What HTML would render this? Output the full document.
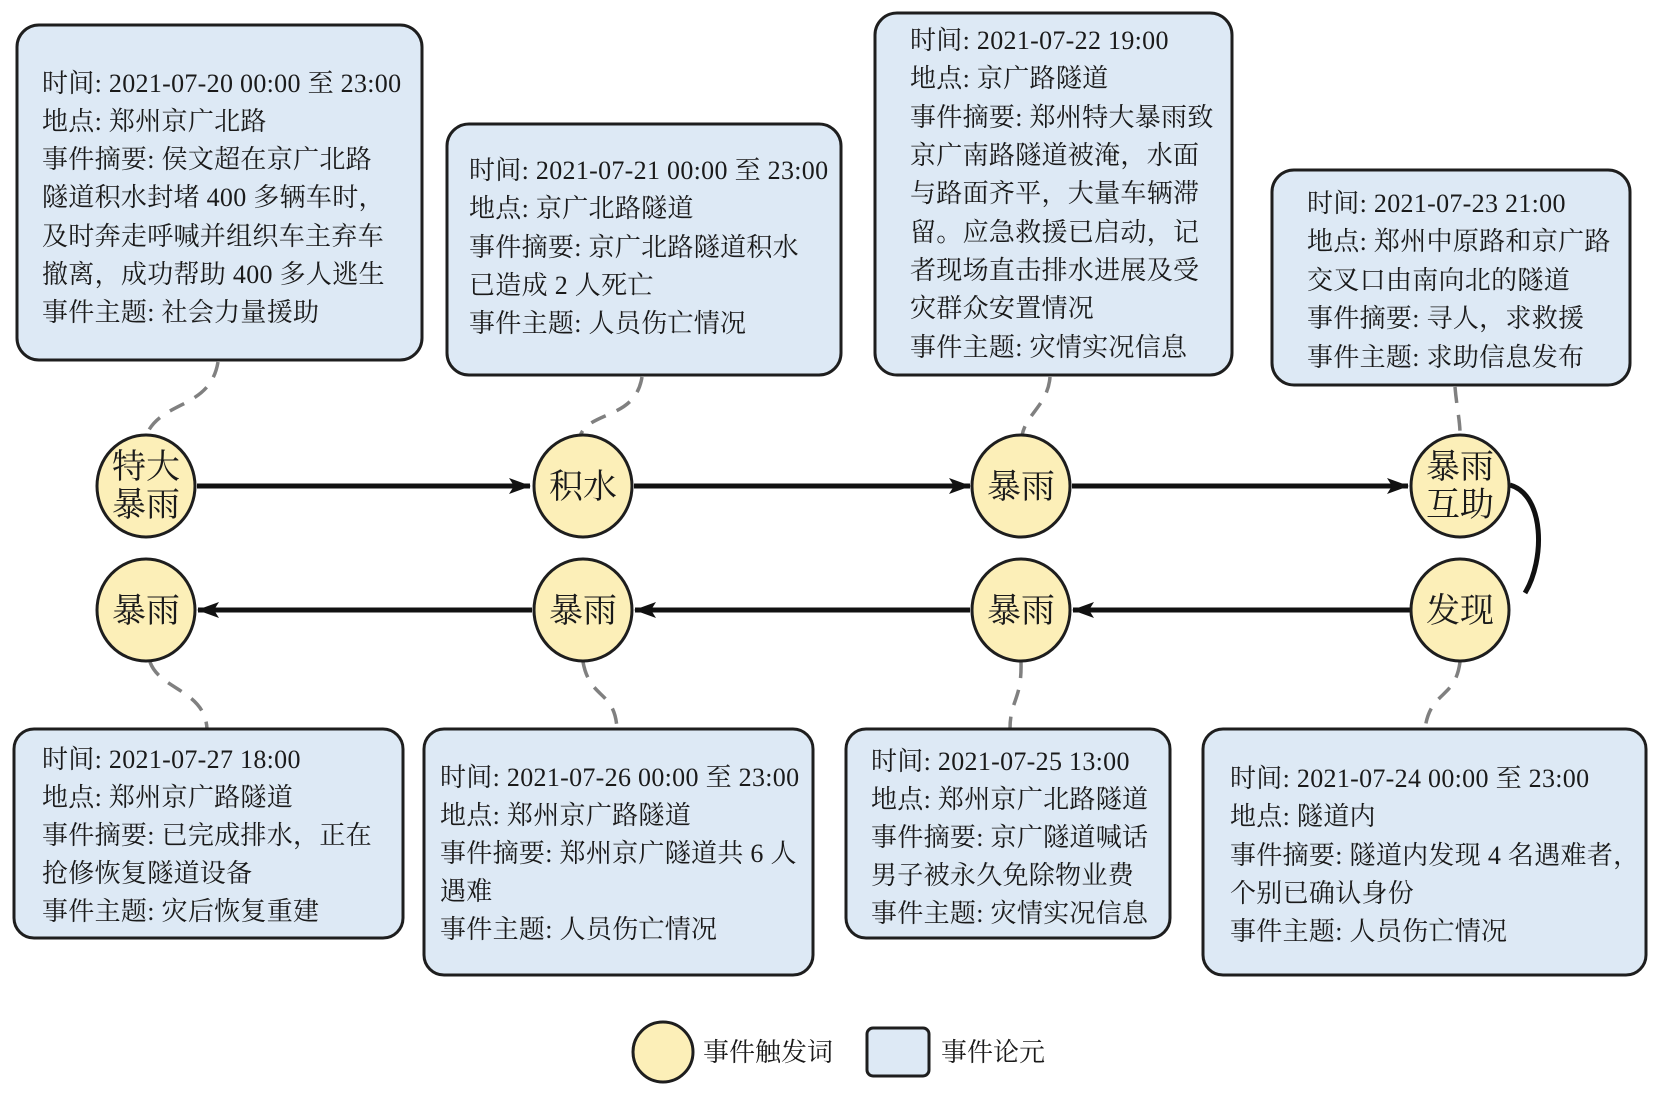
<!DOCTYPE html>
<html><head><meta charset="utf-8"><style>
html,body{margin:0;padding:0;background:#fff;}
svg{display:block;}
.t{font-family:"Liberation Serif","Noto Serif CJK SC",serif;font-size:26px;fill:#1a1a1a;}
.t text{letter-spacing:0.3px;}
.c{font-family:"Liberation Serif","Noto Serif CJK SC",serif;font-size:34px;fill:#1a1a1a;text-anchor:middle;}
.b{fill:#dde9f5;stroke:#1e1e1e;stroke-width:3;}
.e{fill:#fcefb8;stroke:#1e1e1e;stroke-width:3;}
.d{fill:none;stroke:#808080;stroke-width:3.5;stroke-dasharray:16 12;}
.a{stroke:#111;stroke-width:5;fill:none;}
</style></head><body>
<svg width="1658" height="1094" viewBox="0 0 1658 1094" xmlns="http://www.w3.org/2000/svg">
<defs>
<marker id="ah" markerWidth="22" markerHeight="16" refX="21" refY="8" orient="auto" markerUnits="userSpaceOnUse"><path d="M0,0 L22,8 L0,16 L5,8 Z" fill="#111"/></marker></defs>

<path class="d" d="M218,362 C210,410 160,400 146,436"/>
<path class="d" d="M642,377 C635,420 590,410 580,436"/>
<path class="d" d="M1050,377 C1048,405 1025,415 1022,436"/>
<path class="d" d="M1455,387 C1457,410 1460,420 1460,434"/>
<path class="d" d="M150,662 C160,690 205,690 207,729"/>
<path class="d" d="M583,662 C590,700 615,690 617,729"/>
<path class="d" d="M1021,662 C1022,700 1010,700 1010,729"/>
<path class="d" d="M1460,662 C1455,700 1430,690 1425,729"/>

<rect class="b" x="17" y="25" width="405" height="335" rx="22"/>
<rect class="b" x="447" y="124" width="394" height="251" rx="22"/>
<rect class="b" x="875" y="13" width="357" height="362" rx="22"/>
<rect class="b" x="1272" y="170" width="358" height="215" rx="22"/>
<rect class="b" x="14" y="729" width="389" height="209" rx="20"/>
<rect class="b" x="424" y="729" width="389" height="246" rx="20"/>
<rect class="b" x="846" y="729" width="324" height="209" rx="20"/>
<rect class="b" x="1203" y="729" width="443" height="246" rx="20"/>

<line class="a" x1="197" y1="486" x2="530" y2="486" marker-end="url(#ah)"/>
<line class="a" x1="634" y1="486" x2="970" y2="486" marker-end="url(#ah)"/>
<line class="a" x1="1072" y1="486" x2="1408" y2="486" marker-end="url(#ah)"/>
<line class="a" x1="1410" y1="610" x2="1073" y2="610" marker-end="url(#ah)"/>
<line class="a" x1="970" y1="610" x2="635" y2="610" marker-end="url(#ah)"/>
<line class="a" x1="532" y1="610" x2="198" y2="610" marker-end="url(#ah)"/>
<path class="a" d="M1510,485 C1545,495 1545,560 1525,593"/>

<ellipse class="e" cx="146" cy="486" rx="49" ry="51"/>
<ellipse class="e" cx="583" cy="486" rx="49" ry="51"/>
<ellipse class="e" cx="1021" cy="486" rx="49" ry="51"/>
<ellipse class="e" cx="1460" cy="486" rx="49" ry="51"/>
<ellipse class="e" cx="146" cy="610" rx="49" ry="51"/>
<ellipse class="e" cx="583" cy="610" rx="49" ry="51"/>
<ellipse class="e" cx="1021" cy="610" rx="49" ry="51"/>
<ellipse class="e" cx="1460" cy="610" rx="49" ry="51"/>
<text class="c" x="146" y="478">特大</text><text class="c" x="146" y="516">暴雨</text>
<text class="c" x="583" y="498">积水</text>
<text class="c" x="1021" y="498">暴雨</text>
<text class="c" x="1460" y="478">暴雨</text><text class="c" x="1460" y="516">互助</text>
<text class="c" x="1460" y="622">发现</text>
<text class="c" x="1021" y="622">暴雨</text>
<text class="c" x="583" y="622">暴雨</text>
<text class="c" x="146" y="622">暴雨</text>

<g class="t">
<text x="42" y="92">时间: 2021-07-20 00:00 至 23:00</text>
<text x="42" y="130">地点: 郑州京广北路</text>
<text x="42" y="168">事件摘要: 侯文超在京广北路</text>
<text x="42" y="206">隧道积水封堵 400 多辆车时，</text>
<text x="42" y="245">及时奔走呼喊并组织车主弃车</text>
<text x="42" y="283">撤离，成功帮助 400 多人逃生</text>
<text x="42" y="321">事件主题: 社会力量援助</text>

<text x="469" y="179">时间: 2021-07-21 00:00 至 23:00</text>
<text x="469" y="217">地点: 京广北路隧道</text>
<text x="469" y="256">事件摘要: 京广北路隧道积水</text>
<text x="469" y="294">已造成 2 人死亡</text>
<text x="469" y="332">事件主题: 人员伤亡情况</text>

<text x="910" y="49">时间: 2021-07-22 19:00</text>
<text x="910" y="87">地点: 京广路隧道</text>
<text x="910" y="126">事件摘要: 郑州特大暴雨致</text>
<text x="910" y="164">京广南路隧道被淹，水面</text>
<text x="910" y="202">与路面齐平，大量车辆滞</text>
<text x="910" y="241">留。应急救援已启动，记</text>
<text x="910" y="279">者现场直击排水进展及受</text>
<text x="910" y="317">灾群众安置情况</text>
<text x="910" y="356">事件主题: 灾情实况信息</text>

<text x="1307" y="212">时间: 2021-07-23 21:00</text>
<text x="1307" y="250">地点: 郑州中原路和京广路</text>
<text x="1307" y="289">交叉口由南向北的隧道</text>
<text x="1307" y="327">事件摘要: 寻人，求救援</text>
<text x="1307" y="366">事件主题: 求助信息发布</text>

<text x="42" y="768">时间: 2021-07-27 18:00</text>
<text x="42" y="806">地点: 郑州京广路隧道</text>
<text x="42" y="844">事件摘要: 已完成排水，正在</text>
<text x="42" y="882">抢修恢复隧道设备</text>
<text x="42" y="920">事件主题: 灾后恢复重建</text>

<text x="440" y="786">时间: 2021-07-26 00:00 至 23:00</text>
<text x="440" y="824">地点: 郑州京广路隧道</text>
<text x="440" y="862">事件摘要: 郑州京广隧道共 6 人</text>
<text x="440" y="900">遇难</text>
<text x="440" y="938">事件主题: 人员伤亡情况</text>

<text x="871" y="770">时间: 2021-07-25 13:00</text>
<text x="871" y="808">地点: 郑州京广北路隧道</text>
<text x="871" y="846">事件摘要: 京广隧道喊话</text>
<text x="871" y="884">男子被永久免除物业费</text>
<text x="871" y="922">事件主题: 灾情实况信息</text>

<text x="1230" y="787">时间: 2021-07-24 00:00 至 23:00</text>
<text x="1230" y="825">地点: 隧道内</text>
<text x="1230" y="864">事件摘要: 隧道内发现 4 名遇难者，</text>
<text x="1230" y="902">个别已确认身份</text>
<text x="1230" y="940">事件主题: 人员伤亡情况</text>
</g>

<circle class="e" cx="663" cy="1052" r="30"/>
<text class="t" x="703" y="1061">事件触发词</text>
<rect class="b" x="867" y="1028" width="62" height="48" rx="6"/>
<text class="t" x="941" y="1061">事件论元</text>
</svg>
</body></html>
